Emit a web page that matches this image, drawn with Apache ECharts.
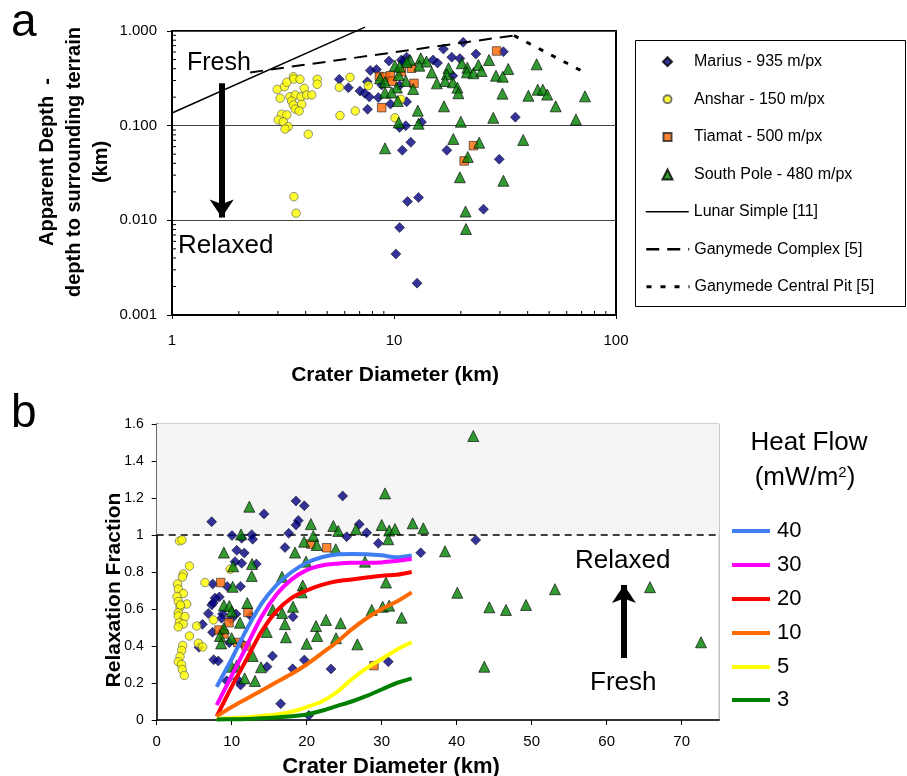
<!DOCTYPE html>
<html><head><meta charset="utf-8">
<script src="https://cdn.jsdelivr.net/npm/echarts@6/dist/echarts.min.js"></script>
<style>html,body{margin:0;padding:0;background:#fff}#c{width:907px;height:776px}</style>
</head><body><div id="c"></div>
<script>
const FONT = '"Liberation Sans", Arial, sans-serif';

// ---------- Panel a: apparent depth (km) vs crater diameter (km) ----------
const mariusA = [[5.67,0.309],[6.23,0.252],[7.03,0.232],[7.38,0.220],[7.74,0.201],[8.50,0.198],[7.60,0.149],[7.82,0.383],[8.34,0.392],[9.49,0.482],[10.8,0.494],[7.58,0.291],[9.64,0.169],[11.4,0.179],[11.3,0.100],[10.6,0.0957],[13.3,0.109],[11.9,0.0668],[10.9,0.0550],[17.3,0.0550],[29.8,0.0442],[20.5,0.760],[16.7,0.645],[15.0,0.494],[18.2,0.529],[19.8,0.512],[23.4,0.572],[31.1,0.605],[11.4,0.528],[11.0,0.474],[15.7,0.459],[18.4,0.336],[8.80,0.269],[10.6,0.265],[35.2,0.123],[11.5,0.0158],[12.9,0.0174],[10.6,0.00838],[25.3,0.0131],[10.2,0.00442],[12.7,0.00217]];
const ansharA = [[2.98,0.242],[3.21,0.258],[3.29,0.287],[3.52,0.329],[3.54,0.311],[3.77,0.309],[4.51,0.309],[4.51,0.274],[3.94,0.248],[3.07,0.195],[3.40,0.202],[3.59,0.211],[3.81,0.202],[4.04,0.211],[4.26,0.211],[3.46,0.182],[3.84,0.168],[3.52,0.165],[3.59,0.150],[3.74,0.143],[3.12,0.132],[3.29,0.130],[3.01,0.115],[3.17,0.110],[3.34,0.0976],[3.23,0.0923],[4.11,0.0811],[5.67,0.254],[6.34,0.324],[7.66,0.265],[5.71,0.128],[6.69,0.143],[10.1,0.121],[3.54,0.0178],[3.62,0.0119],[10.75,0.190]];
const tiamatA = [[8.59,0.331],[9.16,0.327],[9.62,0.337],[9.79,0.295],[10.8,0.372],[12.0,0.404],[12.3,0.280],[8.80,0.155],[29.0,0.615],[22.8,0.0615],[20.7,0.0424]];
const southPoleA = [[11.8,0.494],[13.2,0.515],[14.0,0.476],[10.1,0.430],[11.4,0.471],[13.0,0.430],[14.8,0.365],[17.6,0.404],[17.3,0.349],[20.2,0.456],[21.4,0.410],[21.3,0.366],[22.8,0.358],[24.0,0.438],[24.8,0.378],[26.8,0.494],[32.7,0.397],[28.8,0.337],[30.9,0.329],[43.9,0.445],[8.65,0.317],[9.11,0.289],[10.3,0.253],[11.3,0.297],[12.2,0.244],[15.6,0.280],[17.0,0.297],[18.4,0.287],[19.3,0.252],[19.5,0.220],[9.11,0.223],[9.76,0.224],[10.4,0.182],[12.8,0.144],[16.8,0.160],[30.8,0.218],[40.3,0.207],[44.4,0.240],[46.8,0.240],[49.0,0.213],[53.5,0.160],[72.5,0.204],[28.0,0.121],[66.0,0.116],[10.5,0.108],[12.9,0.105],[20.0,0.110],[18.5,0.0724],[24.2,0.0661],[38.2,0.0706],[9.11,0.0577],[21.5,0.0467],[19.8,0.0285],[31.1,0.0262],[21.0,0.0124],[21.1,0.00811],[10.5,0.343],[10.6,0.420]];
const lunarSimple = [[1,0.136],[7.4,1.10]];
const ganymedeComplex = [[2.25,0.365],[34.7,0.896]];
const ganymedeCentralPit = [[34.7,0.896],[72,0.366]];
const xTickLabelsA = [1,10,100];
const yTickLabelsA = [0.001,0.01,0.1,1];
const minorTicksXA = [2,3,4,5,6,7,8,9,20,30,40,50,60,70,80,90];
const minorTicksYA = [0.002,0.003,0.004,0.005,0.006,0.007,0.008,0.009,0.02,0.03,0.04,0.05,0.06,0.07,0.08,0.09,0.2,0.3,0.4,0.5,0.6,0.7,0.8,0.9];
const arrowA = [[1.675,0.28],[1.675,0.0107]];

// ---------- Panel b: relaxation fraction vs crater diameter (km) ----------
const mariusB = [[7.33,1.072],[14.31,1.114],[18.57,1.184],[19.68,1.158],[18.88,1.078],[18.57,1.054],[24.8,1.211],[27.01,1.058],[28.0,1.012],[25.33,0.991],[29.55,0.955],[17.61,1.009],[17.11,0.932],[10.04,0.997],[11.33,0.982],[12.67,1.002],[12.8,0.977],[10.67,0.917],[11.68,0.903],[10.44,0.856],[11.33,0.847],[13.28,0.843],[42.53,0.973],[35.2,0.904],[30.88,0.315],[7.47,0.735],[9.41,0.721],[11.17,0.722],[8.35,0.665],[7.77,0.659],[7.33,0.622],[7.55,0.634],[6.88,0.576],[6.11,0.517],[7.44,0.474],[8.77,0.573],[8.64,0.550],[10.57,0.573],[12.53,0.562],[9.91,0.544],[8.8,0.483],[9.68,0.418],[11.33,0.415],[5.64,0.393],[7.6,0.326],[8.21,0.319],[9.33,0.212],[10.75,0.220],[11.2,0.189],[15.44,0.346],[14.71,0.288],[18.13,0.277],[19.68,0.324],[16.53,0.088],[20.28,0.025],[18.17,0.558],[23.24,0.276]];
const ansharB = [[3.04,0.968],[3.37,0.973],[4.37,0.832],[3.55,0.789],[3.44,0.773],[2.77,0.735],[2.88,0.708],[3.55,0.684],[2.71,0.668],[2.88,0.641],[4.0,0.627],[3.11,0.611],[2.88,0.581],[2.88,0.562],[3.77,0.559],[3.01,0.527],[3.55,0.519],[2.88,0.503],[5.33,0.508],[4.37,0.454],[5.55,0.415],[6.13,0.395],[3.47,0.403],[3.33,0.376],[3.11,0.343],[2.88,0.315],[3.31,0.300],[3.41,0.273],[3.68,0.241],[6.44,0.743],[7.55,0.541],[9.81,0.815],[3.17,0.622]];
const tiamatB = [[20.53,0.951],[22.67,0.931],[8.53,0.743],[12.17,0.582],[9.64,0.526],[8.97,0.465],[10.8,0.419],[11.91,0.400],[28.97,0.294],[8.31,0.486]];
const southPoleB = [[12.35,1.153],[30.44,1.225],[42.21,1.535],[11.24,1.003],[20.56,1.059],[23.55,1.049],[24.21,1.022],[26.57,1.031],[30.0,1.054],[31.0,1.024],[31.77,1.032],[34.13,1.063],[35.55,1.036],[20.88,0.995],[19.65,0.964],[21.33,0.946],[23.87,0.923],[30.88,0.977],[8.96,0.905],[18.44,0.905],[19.91,0.856],[27.77,0.856],[12.71,0.843],[10.2,0.831],[38.44,0.912],[12.67,0.778],[16.71,0.774],[30.57,0.743],[40.08,0.688],[53.1,0.707],[65.77,0.718],[44.35,0.609],[46.57,0.595],[49.24,0.622],[30.13,0.612],[31.0,0.618],[32.66,0.553],[72.57,0.420],[43.68,0.288],[19.47,0.727],[10.13,0.720],[19.33,0.690],[12.08,0.632],[8.96,0.620],[9.68,0.616],[10.0,0.587],[11.11,0.526],[8.96,0.496],[8.43,0.454],[10.0,0.442],[8.6,0.414],[18.17,0.612],[16.73,0.578],[15.47,0.595],[17.1,0.518],[14.67,0.476],[17.23,0.447],[12.8,0.346],[10.0,0.288],[10.67,0.294],[13.91,0.285],[11.73,0.225],[13.11,0.211],[20.0,0.412],[21.24,0.508],[22.57,0.541],[24.53,0.523],[23.91,0.442],[21.4,0.454],[26.75,0.409],[28.67,0.595]];
const heat40 = [[8,0.18],[10,0.33],[12,0.49],[14,0.63],[16,0.73],[18,0.80],[20,0.85],[22,0.88],[24,0.895],[26,0.897],[28,0.896],[30,0.89],[32,0.88],[34,0.89]];
const heat30 = [[8,0.08],[10,0.24],[12,0.40],[14,0.56],[16,0.68],[18,0.76],[20,0.81],[22,0.835],[24,0.845],[26,0.85],[28,0.85],[30,0.852],[32,0.86],[34,0.87]];
const heat20 = [[8,0.02],[10,0.18],[12,0.33],[14,0.48],[16,0.59],[18,0.66],[20,0.70],[22,0.73],[24,0.75],[26,0.76],[28,0.77],[30,0.78],[32,0.785],[34,0.80]];
const heat10 = [[8,0.02],[10,0.07],[12,0.115],[14,0.16],[16,0.205],[18,0.25],[20,0.30],[22,0.36],[24,0.42],[26,0.49],[28,0.55],[30,0.60],[32,0.64],[34,0.69]];
const heat5 = [[8,0.005],[10,0.01],[12,0.015],[14,0.022],[16,0.03],[18,0.045],[20,0.07],[22,0.10],[24,0.15],[26,0.22],[28,0.28],[30,0.33],[32,0.38],[34,0.42]];
const heat3 = [[8,0.003],[10,0.004],[12,0.006],[14,0.01],[16,0.014],[18,0.02],[20,0.03],[22,0.05],[24,0.075],[26,0.10],[28,0.13],[30,0.165],[32,0.20],[34,0.225]];
const xTickLabelsB = [0,10,20,30,40,50,60,70];
const arrowB = [[62.3,0.335],[62.3,0.73]];

const NAMES = ['Marius - 935 m/px','Anshar - 150 m/px','Tiamat - 500 m/px','South Pole - 480 m/px','Lunar Simple [11]','Ganymede Complex [5]','Ganymede Central Pit [5]'];
const HEAT = ['40','30','20','10','5','3'];
const HEATCOL = ['#3f7ff2','#ff00ff','#ff0000','#ff6a00','#ffff00','#008000'];
const HEATDATA = [heat40,heat30,heat20,heat10,heat5,heat3];

const sty = {
  marius: {symbol:'diamond', symbolSize:10, itemStyle:{color:'#000080', borderColor:'#000', borderWidth:0.6}},
  anshar: {symbol:'circle', symbolSize:8.5, itemStyle:{color:'#ffff00', borderColor:'#555', borderWidth:0.8}},
  tiamat: {symbol:'rect', symbolSize:8.5, itemStyle:{color:'#ff6600', borderColor:'#222', borderWidth:0.8}},
  south: {symbol:'triangle', symbolSize:11, itemStyle:{color:'#008000', borderColor:'#000', borderWidth:0.8}}
};
function scat(name, data, s, gi){
  return Object.assign({type:'scatter', name, data, xAxisIndex:gi, yAxisIndex:gi, silent:true, animation:false}, JSON.parse(JSON.stringify(s)));
}

const chart = echarts.init(document.getElementById('c'), null, {renderer:'canvas'});
const series = [
  scat(NAMES[0], mariusA, sty.marius, 0),
  scat(NAMES[1], ansharA, sty.anshar, 0),
  scat(NAMES[2], tiamatA, sty.tiamat, 0),
  scat(NAMES[3], southPoleA, sty.south, 0),
  {type:'line', name:NAMES[4], data:lunarSimple, xAxisIndex:0, yAxisIndex:0, symbol:'none', clip:false, lineStyle:{color:'#000', width:1.5}, silent:true, animation:false},
  {type:'line', name:NAMES[5], data:ganymedeComplex, xAxisIndex:0, yAxisIndex:0, symbol:'none', lineStyle:{color:'#000', width:2, type:[13,8]}, silent:true, animation:false},
  {type:'line', name:NAMES[6], data:ganymedeCentralPit, xAxisIndex:0, yAxisIndex:0, symbol:'none', lineStyle:{color:'#000', width:3, type:[5,9]}, silent:true, animation:false},
  {type:'custom', name:'minorTicksA', xAxisIndex:0, yAxisIndex:0, silent:true, animation:false,
   data: minorTicksXA.map(v=>[v,0.001,0]).concat(minorTicksYA.map(v=>[1,v,1])),
   renderItem: function(params, api){
     const p = api.coord([api.value(0), api.value(1)]);
     const t = api.value(2);
     const shape = t===0 ? {x1:p[0], y1:p[1], x2:p[0], y2:p[1]-4} : {x1:p[0], y1:p[1], x2:p[0]+4, y2:p[1]};
     return {type:'line', shape, style:{stroke:'#000', lineWidth:1}};
   },
   markLine:{silent:true, animation:false, symbol:['none','arrow'], symbolSize:[18,18],
     lineStyle:{color:'#000', width:6, type:'solid'}, label:{show:false},
     data:[[{coord:arrowA[0]},{coord:arrowA[1]}]]}
  },
  {type:'line', name:'regionB', data:[], xAxisIndex:1, yAxisIndex:1, silent:true, animation:false, z:1,
   markArea:{silent:true, itemStyle:{color:'#f5f5f5'}, data:[[{yAxis:1},{yAxis:1.6}]]},
   markLine:{silent:true, z:1, symbol:['none','none'], label:{show:false}, lineStyle:{color:'#000', width:1.5, type:[7,5]}, data:[{yAxis:1}]}
  },
  scat(NAMES[0], mariusB, sty.marius, 1),
  scat(NAMES[1], ansharB, sty.anshar, 1),
  scat(NAMES[2], tiamatB, sty.tiamat, 1),
  scat(NAMES[3], southPoleB, sty.south, 1)
];
HEAT.forEach((h,i)=>{
  series.push({type:'line', name:h, data:HEATDATA[i], xAxisIndex:1, yAxisIndex:1, symbol:'none', smooth:0.3,
    lineStyle:{color:HEATCOL[i], width:4}, itemStyle:{color:HEATCOL[i]}, silent:true, animation:false});
});
series.push({type:'line', name:'arrowB', data:[], xAxisIndex:1, yAxisIndex:1, silent:true, animation:false,
  markLine:{silent:true, symbol:['none','arrow'], symbolSize:[18,18], label:{show:false},
    lineStyle:{color:'#000', width:6, type:'solid'}, data:[[{coord:arrowB[0]},{coord:arrowB[1]}]]}});

// legends: one component per entry for exact placement
const legends = [];
const legA_y = [61.7,99.3,137,174.5,211.7,249.3,286.7];
const legSym = [9,8,8,10];
const legLineW = [1.5,2.5,3];
NAMES.forEach((n,i)=>{
  if (i<4) {
    const s = legSym[i];
    legends.push({left:666.5 - s/2, top:legA_y[i]-9, data:[n], itemWidth:s, itemHeight:s, padding:0, selectedMode:false,
      textStyle:{fontFamily:FONT, fontSize:16, color:'#000', lineHeight:18, padding:[0,0,0,693-(666.5+s/2)-5]}, itemGap:0});
  } else {
    legends.push({left:645, top:legA_y[i]-9, data:[n], itemWidth:43, itemHeight:10, padding:0, selectedMode:false,
      itemStyle:{opacity:0}, lineStyle:{width:legLineW[i-4]}, textStyle:{fontFamily:FONT, fontSize:16, color:'#000', lineHeight:18}, itemGap:0});
  }
});
const legB_y = [531,565,599,633,667,700];
HEAT.forEach((n,i)=>{
  legends.push({left:730, top:legB_y[i]-12, data:[n], itemWidth:38, itemHeight:10, padding:0, selectedMode:false,
    itemStyle:{opacity:0}, lineStyle:{width:4}, textStyle:{fontFamily:FONT, fontSize:22, color:'#000', lineHeight:24, padding:[0,0,0,2]}, itemGap:0});
});

const option = {
  backgroundColor:'#fff',
  animation:false,
  textStyle:{fontFamily:FONT},
  grid:[
    {left:172, top:31, width:444, height:284, show:true, borderColor:'#000', borderWidth:2, backgroundColor:'transparent', containLabel:false},
    {left:156.7, top:424, width:562.5, height:296, show:true, borderColor:'#a0a0a0', borderWidth:1, backgroundColor:'transparent', containLabel:false}
  ],
  xAxis:[
    {type:'log', logBase:10, gridIndex:0, min:1, max:100,
     axisLine:{show:true, lineStyle:{color:'#000', width:2}},
     axisTick:{show:true, inside:false, length:4, lineStyle:{color:'#000'}, customValues:xTickLabelsA},
     axisLabel:{customValues:xTickLabelsA, color:'#000', fontSize:15, fontFamily:FONT, margin:18, formatter:v=>String(Math.round(v))},
     splitLine:{show:false}},
    {type:'value', gridIndex:1, min:0, max:75,
     axisLine:{show:true, onZero:false, lineStyle:{color:'#000', width:1.5}},
     axisTick:{show:true, inside:false, length:5, lineStyle:{color:'#000'}, customValues:xTickLabelsB},
     axisLabel:{customValues:xTickLabelsB, color:'#000', fontSize:15, fontFamily:FONT, margin:14},
     splitLine:{show:false}}
  ],
  yAxis:[
    {type:'log', logBase:10, gridIndex:0, min:0.001, max:1,
     axisLine:{show:true, lineStyle:{color:'#000', width:2}},
     axisTick:{show:true, inside:false, length:5, lineStyle:{color:'#000'}, customValues:yTickLabelsA},
     axisLabel:{customValues:yTickLabelsA, color:'#000', fontSize:15, fontFamily:FONT, margin:15, formatter:v=>Number(v).toFixed(3)},
     splitLine:{show:true, lineStyle:{color:'#444', width:1}}},
    {type:'value', gridIndex:1, min:0, max:1.6, interval:0.2,
     axisLine:{show:true, lineStyle:{color:'#000', width:1.5}},
     axisTick:{show:true, inside:false, length:5, lineStyle:{color:'#000'}},
     axisLabel:{color:'#000', fontSize:14, fontFamily:FONT, margin:13},
     splitLine:{show:false}}
  ],
  legend: legends,
  series,
  graphic:[
    {type:'rect', silent:true, shape:{x:635.5, y:40.5, width:270, height:266}, style:{fill:'none', stroke:'#000', lineWidth:1}, z:-1},
    {type:'text', silent:true, x:11, y:23, style:{text:'a', font:'46px '+FONT, fill:'#000', textAlign:'left', textVerticalAlign:'middle'}},
    {type:'text', silent:true, x:11, y:414, style:{text:'b', font:'46px '+FONT, fill:'#000', textAlign:'left', textVerticalAlign:'middle'}},
    {type:'text', silent:true, x:187, y:63, style:{text:'Fresh', font:'25px '+FONT, fill:'#000', textAlign:'left', textVerticalAlign:'middle'}},
    {type:'text', silent:true, x:178, y:246, style:{text:'Relaxed', font:'26px '+FONT, fill:'#000', textAlign:'left', textVerticalAlign:'middle'}},
    {type:'text', silent:true, x:395, y:375, style:{text:'Crater Diameter (km)', font:'bold 21px '+FONT, fill:'#000', textAlign:'center', textVerticalAlign:'middle'}},
    {type:'text', silent:true, x:74, y:162, rotation:Math.PI/2, style:{text:'Apparent Depth  -\ndepth to surrounding terrain\n(km)', font:'bold 20px '+FONT, lineHeight:27, fill:'#000', textAlign:'center', textVerticalAlign:'middle'}},
    {type:'text', silent:true, x:391, y:767, style:{text:'Crater Diameter (km)', font:'bold 22px '+FONT, fill:'#000', textAlign:'center', textVerticalAlign:'middle'}},
    {type:'text', silent:true, x:114, y:590, rotation:Math.PI/2, style:{text:'Relaxation Fraction', font:'bold 21px '+FONT, fill:'#000', textAlign:'center', textVerticalAlign:'middle'}},
    {type:'text', silent:true, x:597.7, y:458, style:{text:'Crater floor above', font:'20px '+FONT, fill:'#222', textAlign:'center', textVerticalAlign:'middle'}},
    {type:'text', silent:true, x:597.7, y:483, style:{text:'surrounding terrain', font:'20px '+FONT, fill:'#222', textAlign:'center', textVerticalAlign:'middle'}},
    {type:'text', silent:true, x:575, y:561, style:{text:'Relaxed', font:'26px '+FONT, fill:'#000', textAlign:'left', textVerticalAlign:'middle'}},
    {type:'text', silent:true, x:590, y:683, style:{text:'Fresh', font:'26px '+FONT, fill:'#000', textAlign:'left', textVerticalAlign:'middle'}},
    {type:'text', silent:true, x:809, y:443, style:{text:'Heat Flow', font:'26px '+FONT, fill:'#000', textAlign:'center', textVerticalAlign:'middle'}},
    {type:'text', silent:true, x:805, y:478, style:{text:'(mW/m{s|2})', font:'26px '+FONT, fill:'#000', textAlign:'center', textVerticalAlign:'middle',
      rich:{s:{fontSize:15, fontFamily:FONT, verticalAlign:'top', padding:[0,0,10,0]}}}}
  ]
};
chart.setOption(option);
</script>
</body></html>
